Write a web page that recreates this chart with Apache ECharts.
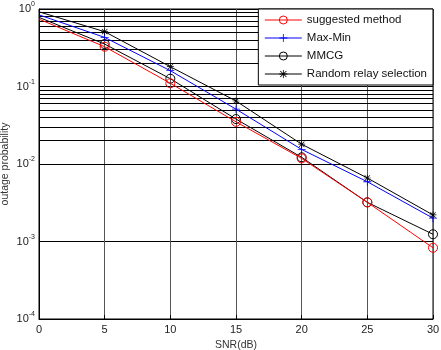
<!DOCTYPE html>
<html>
<head>
<meta charset="utf-8">
<script src="https://cdn.jsdelivr.net/npm/echarts@6/dist/echarts.min.js"></script>
<style>
  html, body { margin: 0; padding: 0; background: #fff; }
  #chart { width: 441px; height: 350px; }
</style>
</head>
<body>
<div id="chart"></div>
<script>
// SNR (dB) on the x axis
const snr = [0, 5, 10, 15, 20, 25, 30];
// outage probability
const suggested = [0.74, 0.326, 0.11, 0.035, 0.0118, 0.0032, 0.00083];
const maxMin = [0.84, 0.43, 0.16, 0.051, 0.0154, 0.0059, 0.002];
const mmcg = [0.78, 0.353, 0.126, 0.038, 0.0122, 0.0032, 0.00124];
const randomRelay = [0.92, 0.51, 0.18, 0.065, 0.018, 0.0066, 0.0022];
// minor log grid lines (2..9 in each decade)
const decades = [1e-4, 1e-3, 1e-2, 1e-1];
const minorSteps = [2, 3, 4, 5, 6, 7, 8, 9];

// no marker drawn at SNR = 0 (it sits on the frame in the original)
const pairs = (ys) =>
  snr.map((x, i) => (x === 0 ? { value: [x, ys[i]], symbol: "none" } : [x, ys[i]]));

const minorLines = [];
decades.forEach((d) => {
  minorSteps.forEach((m) => minorLines.push({ yAxis: d * m }));
});

// plus and asterisk markers
const plusPath = "path://M4.5,0L5.5,0L5.5,10L4.5,10ZM0,4.5L10,4.5L10,5.5L0,5.5Z";
const starPath =
  "path://M4.5,0L5.5,0L5.5,10L4.5,10Z" +
  "M0,4.5L10,4.5L10,5.5L0,5.5Z" +
  "M1.5,0.8L9.2,8.5L8.5,9.2L0.8,1.5Z" +
  "M8.5,0.8L9.2,1.5L1.5,9.2L0.8,8.5Z";

const font = "Liberation Sans, Arial, sans-serif";

const chart = echarts.init(document.getElementById("chart"));

chart.setOption({
  animation: false,
  textStyle: { fontFamily: font },
  grid: {
    left: 39,
    right: 8,
    top: 9,
    bottom: 31,
    containLabel: false,
    outerBoundsMode: "none",
    show: true,
    borderColor: "#000",
    borderWidth: 1,
  },
  legend: {
    orient: "vertical",
    right: 8,
    top: 9,
    backgroundColor: "#fff",
    borderColor: "#000",
    borderWidth: 1,
    borderRadius: 0,
    padding: [5, 6, 5, 6],
    itemWidth: 37,
    itemHeight: 10,
    itemGap: 6,
    itemTextGap: 4,
    lineStyle: { width: 1 },
    itemStyle: { borderWidth: 1 },
    textStyle: { fontSize: 11.5, color: "#111", fontFamily: font },
    data: ["suggested method", "Max-Min", "MMCG", "Random relay selection"],
  },
  xAxis: {
    type: "value",
    min: 0,
    max: 30,
    interval: 5,
    name: "SNR(dB)",
    nameLocation: "middle",
    nameGap: 21,
    nameMoveOverlap: false,
    nameTextStyle: { fontSize: 10.5, color: "#333" },
    axisLine: { lineStyle: { color: "#000" } },
    axisTick: { inside: true, length: 4, lineStyle: { color: "#000" } },
    axisLabel: { fontSize: 11, color: "#222", margin: 5 },
    splitLine: { show: true, lineStyle: { color: "#555", width: 1 } },
  },
  yAxis: {
    type: "log",
    logBase: 10,
    min: 1e-4,
    max: 1,
    name: "outage probability",
    nameLocation: "middle",
    nameGap: 28,
    nameMoveOverlap: false,
    nameTextStyle: { fontSize: 10.5, color: "#333" },
    axisLine: { lineStyle: { color: "#000" } },
    axisTick: { inside: true, length: 4, lineStyle: { color: "#000" } },
    axisLabel: {
      margin: 4,
      color: "#222",
      formatter: (v) => "{b|10}{s|" + Math.round(Math.log10(v)) + "}",
      rich: {
        b: { fontSize: 11, color: "#222" },
        s: { fontSize: 7, color: "#222", padding: [0, 0, 9, 0] },
      },
    },
    splitLine: { show: true, lineStyle: { color: "#000", width: 1 } },
  },
  series: [
    {
      name: "suggested method",
      type: "line",
      data: pairs(suggested),
      symbol: "circle",
      symbolSize: 9,
      itemStyle: { color: "rgba(0,0,0,0)", borderColor: "#f00", borderWidth: 1 },
      lineStyle: { color: "#f00", width: 1 },
      z: 5,
      markLine: {
        silent: true,
        symbol: "none",
        label: { show: false },
        lineStyle: { color: "#000", width: 1, type: "solid" },
        data: minorLines,
        z: 1,
      },
    },
    {
      name: "Max-Min",
      type: "line",
      data: pairs(maxMin),
      symbol: plusPath,
      symbolSize: 8,
      itemStyle: { color: "#00f" },
      lineStyle: { color: "#00f", width: 1 },
      z: 4,
    },
    {
      name: "MMCG",
      type: "line",
      data: pairs(mmcg),
      symbol: "circle",
      symbolSize: 9,
      itemStyle: { color: "rgba(0,0,0,0)", borderColor: "#000", borderWidth: 1 },
      lineStyle: { color: "#000", width: 1 },
      z: 4,
    },
    {
      name: "Random relay selection",
      type: "line",
      data: pairs(randomRelay),
      symbol: starPath,
      symbolSize: 7,
      itemStyle: { color: "#000" },
      lineStyle: { color: "#000", width: 1 },
      z: 4,
    },
  ],
});
</script>
</body>
</html>
